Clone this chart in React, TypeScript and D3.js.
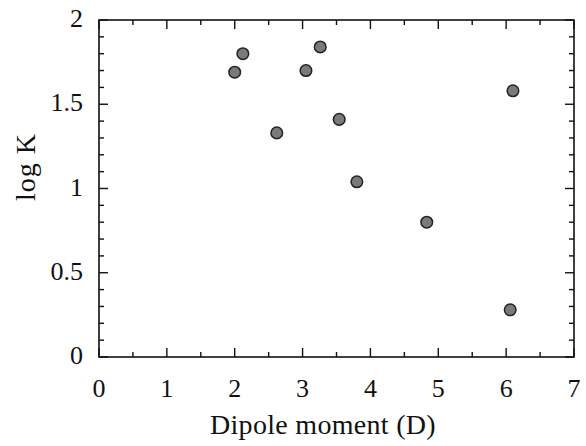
import React from "react";
import * as d3 from "d3";

const dipole = [2.0, 2.12, 2.62, 3.05, 3.26, 3.54, 3.8, 4.83, 6.1, 6.06];
const logK = [1.69, 1.8, 1.33, 1.7, 1.84, 1.41, 1.04, 0.8, 1.58, 0.28];
const xTicks = [0, 1, 2, 3, 4, 5, 6, 7];
const yTicks = [0, 0.5, 1, 1.5, 2];
const yTickLabels = ["0", "0.5", "1", "1.5", "2"];

const W = 586, H = 446;
const L = 99, R = 574, T = 20, B = 357;

export default function App() {
  const x = d3.scaleLinear().domain([0, 7]).range([L, R]);
  const y = d3.scaleLinear().domain([0, 2]).range([B, T]);
  const xMinor = d3.range(0, 7.01, 0.5);
  const yMinor = d3.range(0, 2.001, 0.1);
  const font = "'Liberation Serif', 'DejaVu Serif', serif";
  const stroke = "#111";
  return (
    <svg width={W} height={H} style={{ position: "absolute", left: 0, top: 0 }}>
      <rect x={0} y={0} width={W} height={H} fill="#fff" />
      <rect x={L} y={T} width={R - L} height={B - T} fill="none" stroke={stroke} strokeWidth={1.6} />
      {xMinor.map((v, i) => {
        const major = Math.abs(v - Math.round(v)) < 1e-6;
        const len = major ? 9 : 5;
        return (
          <g key={"xm" + i}>
            <line x1={x(v)} x2={x(v)} y1={B} y2={B - len} stroke={stroke} strokeWidth={1.4} />
            <line x1={x(v)} x2={x(v)} y1={T} y2={T + len} stroke={stroke} strokeWidth={1.4} />
          </g>
        );
      })}
      {yMinor.map((v, i) => {
        const major = Math.abs(v * 2 - Math.round(v * 2)) < 1e-6;
        const len = major ? 9 : 5;
        return (
          <g key={"ym" + i}>
            <line x1={L} x2={L + len} y1={y(v)} y2={y(v)} stroke={stroke} strokeWidth={1.4} />
            <line x1={R} x2={R - len} y1={y(v)} y2={y(v)} stroke={stroke} strokeWidth={1.4} />
          </g>
        );
      })}
      {xTicks.map((v) => (
        <text key={"xt" + v} x={x(v)} y={397} textAnchor="middle" fontFamily={font} fontSize={26} fill="#111">
          {v}
        </text>
      ))}
      {yTicks.map((v, i) => (
        <text key={"yt" + v} x={83} y={y(v) + 7} textAnchor="end" fontFamily={font} fontSize={26} fill="#111">
          {yTickLabels[i]}
        </text>
      ))}
      <text x={(208 + 438) / 2} y={434} textAnchor="middle" fontFamily={font} fontSize={28} letterSpacing={0.3} fill="#111">
        Dipole moment (D)
      </text>
      <text transform={`translate(35, 167) rotate(-90)`} textAnchor="middle" fontFamily={font} fontSize={28} letterSpacing={1} fill="#111">
        log K
      </text>
      {dipole.map((d, i) => (
        <circle key={"p" + i} cx={x(d)} cy={y(logK[i])} r={5.8} fill="#7a7a7a" stroke="#222" strokeWidth={1.5} />
      ))}
    </svg>
  );
}
